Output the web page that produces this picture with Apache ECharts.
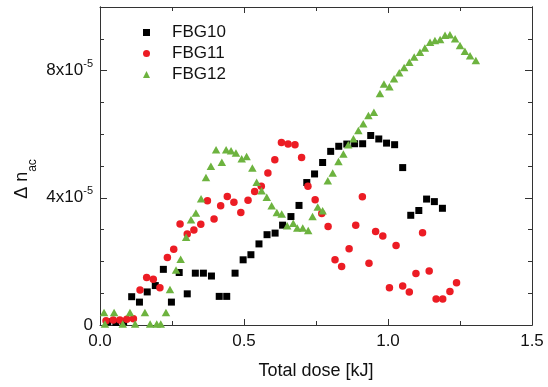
<!DOCTYPE html>
<html><head><meta charset="utf-8">
<script src="https://cdn.jsdelivr.net/npm/echarts@6/dist/echarts.min.js"></script>
<style>html,body{margin:0;padding:0;background:#fff}#c{width:548px;height:387px}</style>
</head><body><div id="c"></div>
<script>
// ---- data (x: total dose in kJ, y: Δn_ac in units of 1e-5) ----
const seriesNames = ['FBG10', 'FBG11', 'FBG12'];
const xTickLabels = ['0.0', '0.5', '1.0', '1.5'];
const yTickMantissas = ['0', '4', '8'];   // labels: 0, 4x10^-5, 8x10^-5
const yUnit = 1e-5;

const fbg10X = [0.027,0.055,0.082,0.110,0.137,0.164,0.192,0.220,0.248,0.275,0.303,0.331,0.359,0.387,0.414,0.440,0.469,0.497,0.524,0.552,0.580,0.608,0.634,0.663,0.691,0.718,0.745,0.773,0.801,0.829,0.857,0.884,0.912,0.940,0.968,0.995,1.023,1.051,1.079,1.107,1.134,1.161,1.189];
const fbg10Y = [0.10,0.08,0.10,0.89,0.72,1.04,1.24,1.75,0.72,1.65,0.98,1.63,1.63,1.54,0.90,0.90,1.63,2.05,2.21,2.55,2.84,2.89,3.14,3.41,3.76,4.48,4.75,5.11,5.46,5.62,5.69,5.70,5.70,5.96,5.85,5.72,5.67,4.95,3.45,3.60,3.96,3.88,3.67];

const fbg11X = [0.021,0.046,0.069,0.093,0.116,0.139,0.162,0.185,0.208,0.234,0.256,0.278,0.303,0.326,0.350,0.373,0.396,0.419,0.442,0.465,0.489,0.514,0.537,0.560,0.583,0.607,0.630,0.653,0.677,0.700,0.722,0.747,0.770,0.792,0.816,0.839,0.865,0.888,0.911,0.934,0.957,0.982,1.005,1.028,1.051,1.074,1.097,1.120,1.143,1.167,1.190,1.215,1.238];
const fbg11Y = [0.13,0.16,0.16,0.18,0.20,1.10,1.49,1.44,1.17,2.12,2.38,3.18,2.86,2.99,3.17,3.91,3.33,3.75,4.04,3.86,3.54,3.92,4.20,4.36,4.78,5.20,5.74,5.69,5.67,5.27,4.36,3.94,3.51,3.10,2.05,1.84,2.40,3.14,4.03,1.94,2.94,2.80,1.17,2.50,1.23,1.04,1.62,2.90,1.70,0.82,0.82,1.05,1.33];

const fbg12X = [0.014,0.017,0.049,0.079,0.104,0.122,0.156,0.174,0.197,0.211,0.229,0.243,0.264,0.280,0.299,0.316,0.333,0.351,0.368,0.385,0.403,0.423,0.438,0.455,0.472,0.492,0.509,0.529,0.544,0.561,0.579,0.596,0.614,0.631,0.650,0.671,0.685,0.704,0.723,0.738,0.756,0.773,0.791,0.808,0.828,0.845,0.862,0.880,0.897,0.914,0.932,0.951,0.972,0.986,1.005,1.021,1.039,1.056,1.074,1.091,1.111,1.128,1.146,1.163,1.181,1.198,1.215,1.233,1.250,1.267,1.285,1.305];
const fbg12Y = [0.39,0.03,0.39,0.03,0.39,0.03,0.39,0.03,0.03,0.03,0.39,1.12,1.73,2.07,2.76,3.31,3.52,3.97,4.64,4.99,5.51,5.12,5.51,5.48,5.41,5.23,5.30,4.94,4.49,4.22,4.02,3.75,3.54,3.49,3.12,3.20,3.05,3.05,2.97,3.41,3.71,3.59,4.54,4.78,5.14,5.38,5.67,5.86,6.12,6.33,6.59,6.69,7.28,7.58,7.49,7.74,7.93,8.10,8.26,8.43,8.58,8.71,8.89,8.95,8.98,9.11,9.13,9.00,8.79,8.61,8.47,8.32];

// ---- chart ----
const FONT = '"Liberation Sans", Arial, sans-serif';
const AX = '#333';
const TXT = '#111';
function pairs(xs, ys) { return xs.map((x, i) => [x, ys[i] * yUnit]); }

const xBase = {
  type: 'value', min: 0, max: 1.5, interval: 0.5,
  axisLine: { show: true, onZero: false, lineStyle: { color: AX, width: 1 } },
  axisTick: { show: true, inside: true, length: 6, lineStyle: { color: AX } },
  minorTick: { show: true, splitNumber: 2, length: 4, lineStyle: { color: AX } },
  splitLine: { show: false }, minorSplitLine: { show: false }
};
function yAxisDef(pos, interval, tickLen, showLabel) {
  return {
    type: 'value', position: pos, min: 0, max: 10 * yUnit, interval: interval,
    axisLine: { show: true, onZero: false, lineStyle: { color: AX, width: 1 } },
    axisTick: { show: true, inside: true, length: tickLen, lineStyle: { color: AX } },
    splitLine: { show: false },
    axisLabel: showLabel ? {
      show: true, margin: 7, fontFamily: FONT, fontSize: 17, color: TXT, lineHeight: 24,
      formatter: function (v) {
        const k = Math.round(v / (4 * yUnit));
        if (Math.abs(v - k * 4 * yUnit) > 1e-9 || k >= yTickMantissas.length) return '';
        if (k === 0) return yTickMantissas[0];
        return yTickMantissas[k] + 'x10{sup|-5}';
      },
      rich: { sup: { fontFamily: FONT, fontSize: 11, color: TXT, lineHeight: 8, verticalAlign: 'top' } }
    } : { show: false }
  };
}

const option = {
  animation: false,
  backgroundColor: '#fff',
  grid: { left: 100, right: 16, top: 7, bottom: 62 },
  xAxis: [
    Object.assign({}, xBase, {
      position: 'bottom',
      axisLabel: { show: true, margin: 8, fontFamily: FONT, fontSize: 17, color: TXT,
        formatter: v => xTickLabels[Math.round(v / 0.5)] },
      name: 'Total dose [kJ]', nameLocation: 'middle', nameGap: 37,
      nameTextStyle: { fontFamily: FONT, fontSize: 18, color: TXT }
    }),
    Object.assign({}, xBase, { position: 'top', axisLabel: { show: false } })
  ],
  yAxis: [
    yAxisDef('left', 4 * yUnit, 7, true),
    yAxisDef('left', 1 * yUnit, 4, false),
    yAxisDef('right', 4 * yUnit, 7, false),
    yAxisDef('right', 1 * yUnit, 4, false)
  ],
  legend: {
    data: seriesNames, orient: 'vertical', left: 143, top: 22, padding: 0,
    itemWidth: 7, itemHeight: 7, itemGap: 0,
    textStyle: { fontFamily: FONT, fontSize: 17, color: TXT, lineHeight: 21, padding: [0, 0, 0, 17] }
  },
  graphic: [{
    type: 'text', x: 23, y: 179, rotation: Math.PI / 2,
    style: {
      text: '{m|Δ n}{s|ac}', align: 'center', verticalAlign: 'middle',
      rich: {
        m: { fontFamily: FONT, fontSize: 18, fill: TXT, lineHeight: 20, verticalAlign: 'top' },
        s: { fontFamily: FONT, fontSize: 12, fill: TXT, lineHeight: 12, padding: [14, 0, 0, 0], verticalAlign: 'top' }
      }
    }
  }],
  series: [
    { name: seriesNames[0], type: 'scatter', symbol: 'rect', symbolSize: 7,
      itemStyle: { color: '#000000', opacity: 1 }, data: pairs(fbg10X, fbg10Y) },
    { name: seriesNames[1], type: 'scatter', symbol: 'circle', symbolSize: 7.5,
      itemStyle: { color: '#ec1c24', opacity: 1 }, data: pairs(fbg11X, fbg11Y) },
    { name: seriesNames[2], type: 'scatter', symbol: 'triangle', symbolSize: [8.5, 7.5],
      itemStyle: { color: '#6db33f', opacity: 1 }, data: pairs(fbg12X, fbg12Y) }
  ]
};
const chart = echarts.init(document.getElementById('c'));
chart.setOption(option);
</script>
</body></html>
